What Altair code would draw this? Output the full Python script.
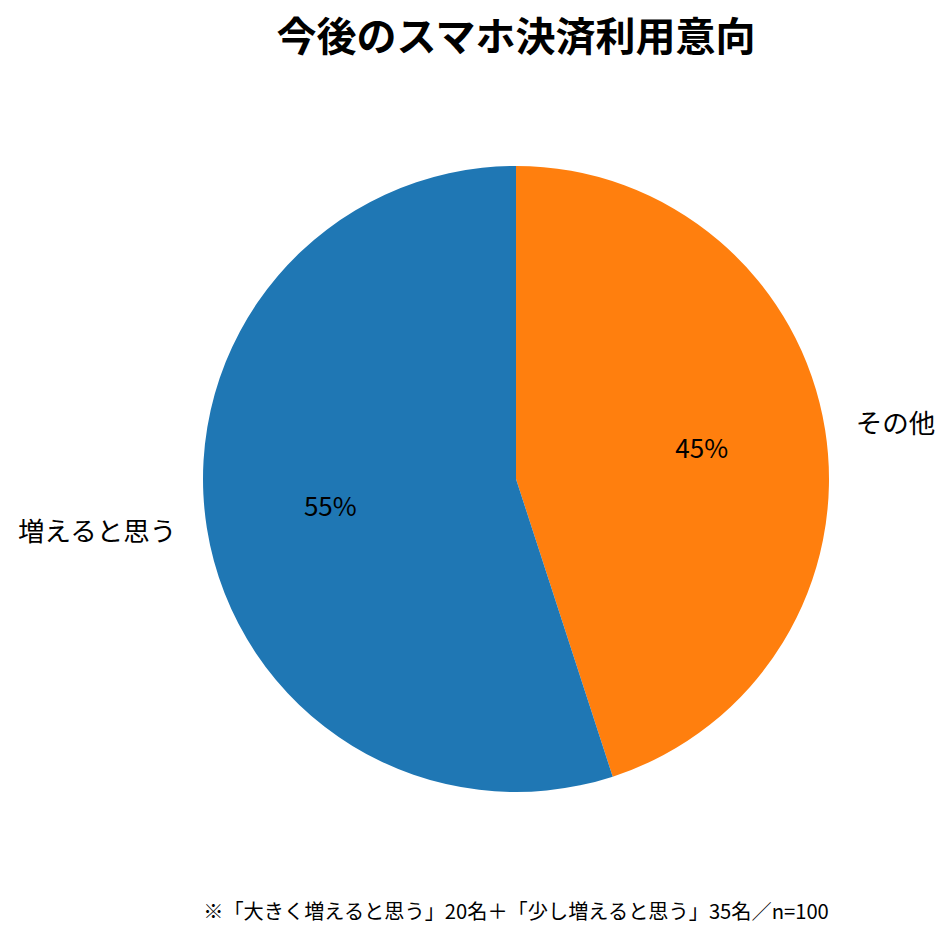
import altair as alt
import pandas as pd

labels = ["その他", "増えると思う"]
values = [45, 55]
pct_labels = ["45%", "55%"]
orders = [1, 2]
colors = ["#ff7f0e", "#1f77b4"]
align_side = ["left", "right"]

title_text = "今後のスマホ決済利用意向"
footnote = "※「大きく増えると思う」20名＋「少し増えると思う」35名／n=100"

FONT = "Noto Sans CJK JP"

df = pd.DataFrame({"label": labels, "value": values, "pct": pct_labels,
                   "ord": orders, "side": align_side})

theta = alt.Theta("value:Q", stack=True)
order = alt.Order("ord:Q")

base = alt.Chart(df)

arcs = base.mark_arc(outerRadius=313, strokeWidth=0).encode(
    theta=theta,
    order=order,
    color=alt.Color("label:N", scale=alt.Scale(domain=labels, range=colors), legend=None),
)

pct = base.mark_text(radius=188, font=FONT, fontSize=26, color="black").encode(
    theta=theta, order=order, text="pct:N"
)

outer_left = base.mark_text(radius=344, font=FONT, fontSize=26.5, align="left", color="black").encode(
    theta=theta, order=order, text="label:N",
    opacity=alt.condition(alt.datum.side == "left", alt.value(1), alt.value(0)),
)
outer_right = base.mark_text(radius=344, font=FONT, fontSize=26.5, align="right", color="black").encode(
    theta=theta, order=order, text="label:N",
    opacity=alt.condition(alt.datum.side == "right", alt.value(1), alt.value(0)),
)

foot = alt.Chart(pd.DataFrame({"t": [footnote]})).mark_text(
    font=FONT, fontSize=20.2, align="center", baseline="middle", color="black"
).encode(x=alt.value(420), y=alt.value(834), text="t:N")

chart = alt.layer(arcs, pct, outer_left, outer_right, foot).properties(
    width=840,
    height=800,
    padding={"left": 88, "top": 71, "right": 8, "bottom": 53},
    autosize=alt.AutoSizeParams(type="none"),
    title=alt.TitleParams(title_text, font=FONT, fontSize=40, fontWeight="bold",
                          anchor="middle", color="black", offset=20),
).configure(background="white").configure_view(stroke=None)

chart.save("out.html", embed_options={"renderer": "svg", "actions": False})
